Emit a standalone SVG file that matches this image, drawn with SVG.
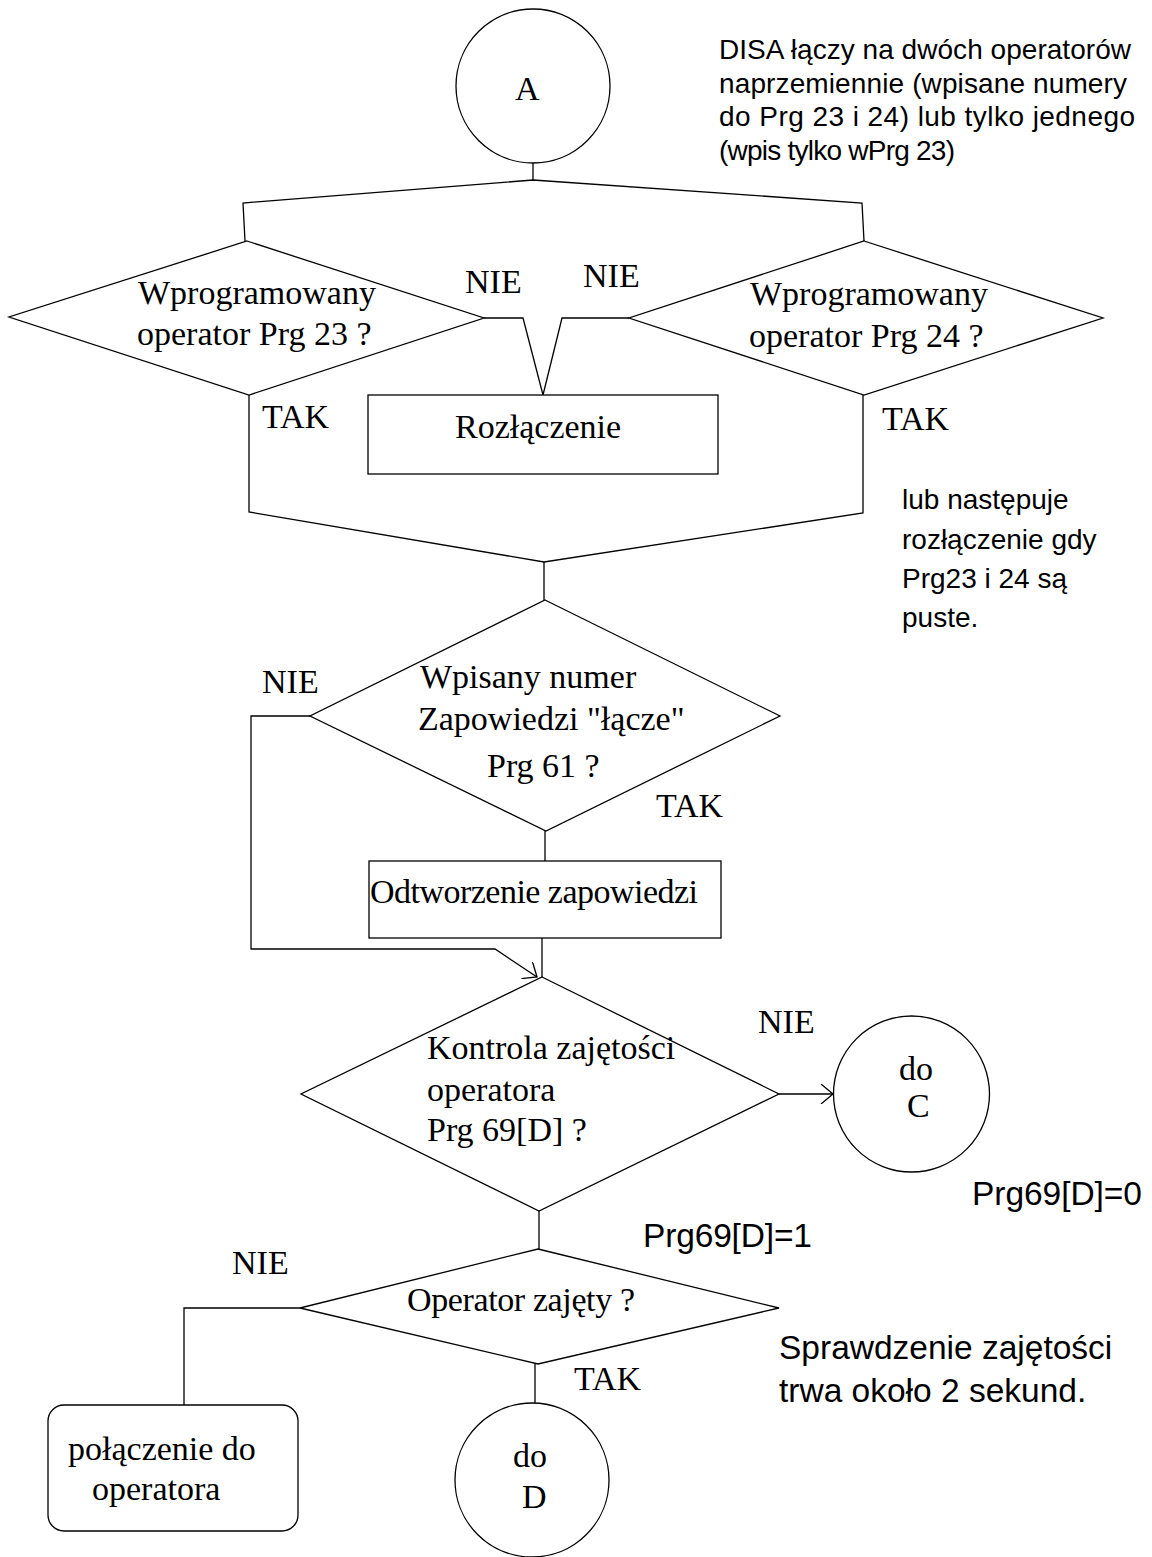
<svg xmlns="http://www.w3.org/2000/svg" width="1152" height="1557" viewBox="0 0 1152 1557">
<style>
.ln{fill:none;stroke:#000;stroke-width:1.3}
.sh{fill:#fff;stroke:#000;stroke-width:1.3}
.t{font-family:"Liberation Serif","Times New Roman",serif;font-size:34px;fill:#000}
.s{font-family:"Liberation Sans",Arial,sans-serif;font-size:28px;fill:#000}
.s2{font-family:"Liberation Sans",Arial,sans-serif;font-size:33.5px;fill:#000}
</style>
<defs>
<marker id="arr" markerWidth="20" markerHeight="20" refX="14" refY="10" orient="auto" markerUnits="userSpaceOnUse">
<path d="M2,0 L14,10 L2,20" fill="none" stroke="#000" stroke-width="1.3"/>
</marker>
</defs>
<rect width="1152" height="1557" fill="#fff"/>
<g id="connectors" class="ln">
<path d="M533,163 V180"/>
<path d="M245,241 L243,203 L533,180 L862,203 L864,241"/>
<path d="M484,318 H523 L543,395 L562,318 H629"/>
<path d="M249,395 V512 L544,562 L863,513 V395"/>
<path d="M544,562 V600"/>
<path d="M545,831 V861"/>
<path d="M310,716 H251 V949 H495 L537,977" marker-end="url(#arr)"/>
<path d="M542,938 V977"/>
<path d="M779,1094 H833" marker-end="url(#arr)"/>
<path d="M539,1211 V1249"/>
<path d="M300,1308 H184 V1405"/>
<path d="M535,1364 V1403"/>
</g>
<g id="nodeA">
<circle class="sh" cx="533" cy="86" r="77"/>
<text class="t" x="515" y="100">A</text>
</g>
<g id="decision-prg23">
<polygon class="sh" points="247,241 484,318 249,395 9,317"/>
<text class="t" x="138" y="304">Wprogramowany</text>
<text class="t" x="137" y="345">operator Prg 23 ?</text>
</g>
<g id="decision-prg24">
<polygon class="sh" points="864,241 1103,318 864,395 629,318"/>
<text class="t" x="750" y="305">Wprogramowany</text>
<text class="t" x="749" y="347">operator Prg 24 ?</text>
</g>
<g id="rozlaczenie">
<rect class="sh" x="368" y="395" width="350" height="79"/>
<text class="t" x="455" y="438">Rozłączenie</text>
</g>
<g id="note-disa">
<text class="s" x="719" y="59" textLength="412">DISA łączy na dwóch operatorów</text>
<text class="s" x="719" y="93" textLength="408">naprzemiennie (wpisane numery</text>
<text class="s" x="719" y="126" textLength="416">do Prg 23 i 24) lub tylko jednego</text>
<text class="s" x="719" y="160" textLength="236">(wpis tylko wPrg 23)</text>
</g>
<g id="decision-prg61">
<polygon class="sh" points="545,600 780,716 546,831 310,716"/>
<text class="t" x="420" y="688">Wpisany numer</text>
<text class="t" x="418" y="730">Zapowiedzi "łącze"</text>
<text class="t" x="487" y="777">Prg 61 ?</text>
</g>
<g id="odtworzenie">
<rect class="sh" x="369" y="861" width="352" height="77"/>
<text class="t" x="370" y="903" textLength="328">Odtworzenie zapowiedzi</text>
</g>
<g id="note-puste">
<text class="s" x="902" y="509">lub następuje</text>
<text class="s" x="902" y="549">rozłączenie gdy</text>
<text class="s" x="902" y="588">Prg23 i 24 są</text>
<text class="s" x="902" y="627">puste.</text>
</g>
<g id="decision-prg69">
<polygon class="sh" points="542,977 779,1094 539,1211 301,1094"/>
<text class="t" x="427" y="1059">Kontrola zajętości</text>
<text class="t" x="427" y="1101">operatora</text>
<text class="t" x="427" y="1141">Prg 69[D] ?</text>
</g>
<g id="nodeC">
<circle class="sh" cx="911.5" cy="1094" r="78"/>
<text class="t" x="899" y="1080">do</text>
<text class="t" x="907" y="1117">C</text>
</g>
<g id="decision-zajety">
<polygon class="sh" points="538,1249 779,1308 538,1364 300,1308"/>
<text class="t" x="407" y="1311" textLength="228">Operator zajęty ?</text>
</g>
<g id="polaczenie">
<rect class="sh" x="48" y="1405" width="250" height="126" rx="16"/>
<text class="t" x="68" y="1460">połączenie do</text>
<text class="t" x="92" y="1500">operatora</text>
</g>
<g id="nodeD">
<circle class="sh" cx="532" cy="1480" r="77"/>
<text class="t" x="513" y="1467">do</text>
<text class="t" x="522" y="1508">D</text>
</g>
<g id="labels">
<text class="t" x="465" y="293">NIE</text>
<text class="t" x="583" y="287">NIE</text>
<text class="t" x="262" y="428">TAK</text>
<text class="t" x="882" y="430">TAK</text>
<text class="t" x="262" y="693">NIE</text>
<text class="t" x="656" y="817">TAK</text>
<text class="t" x="758" y="1033">NIE</text>
<text class="s2" x="972" y="1205" textLength="170">Prg69[D]=0</text>
<text class="s2" x="643" y="1247" textLength="169">Prg69[D]=1</text>
<text class="t" x="232" y="1274">NIE</text>
<text class="t" x="574" y="1390">TAK</text>
<text class="s2" x="779" y="1359">Sprawdzenie zajętości</text>
<text class="s2" x="779" y="1402">trwa około 2 sekund.</text>
</g>
</svg>
